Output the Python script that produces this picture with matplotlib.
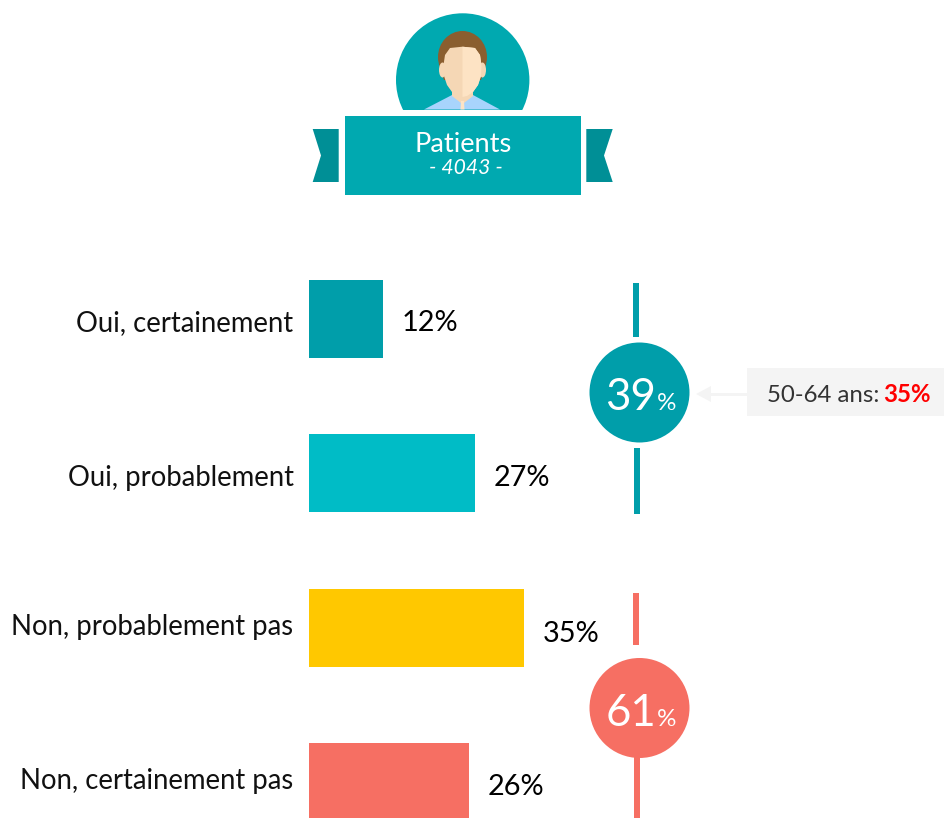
import matplotlib
matplotlib.use("Agg")
import matplotlib.pyplot as plt
import matplotlib.patches as mpatches

# ── Data ──────────────────────────────────────────────
categories = ["Oui, certainement", "Oui, probablement",
              "Non, probablement pas", "Non, certainement pas"]
values = [12, 27, 35, 26]
group_totals = [39, 61]
header_title = "Patients"
header_count = "- 4043 -"
note_label = "50-64 ans:"
note_value = "35%"

# ── Style ─────────────────────────────────────────────
plt.rcParams["font.family"] = ["Lato", "DejaVu Sans"]
BAR_COLORS = ["#009EAA", "#00BCC6", "#FFC800", "#F66F63"]
TEAL = "#00A9B0"
RIBBON = "#008F96"
SKIN_D = "#F5D7B5"
SKIN_L = "#FDE3C4"
HAIR = "#8A5E2F"
W, H = 944, 818

fig = plt.figure(figsize=(W / 100, H / 100), dpi=100)

# bars: 1% = 6.15 px, one category every 154.3 px, bar 78 px high
PX_PER_PCT = 6.15
STEP = 154.3
left = 309 / W
bottom = (H - 319 - 3.5 * STEP) / H
ax = fig.add_axes([left, bottom, 60 * PX_PER_PCT / W, 4 * STEP / H])
ax.set_xlim(0, 60)
ax.set_ylim(3.5, -0.5)
ax.axis("off")
ax.barh(range(4), values, height=78 / STEP, color=BAR_COLORS)

# labels in the original do not sit exactly on the bar centres
label_dy = [-4, -5, 1, 1]
value_dy = [-4, -5, -6, -5]
for i, (cat, val) in enumerate(zip(categories, values)):
    ax.annotate(cat, (0, i), xytext=(-15.5, label_dy[i]), textcoords="offset pixels",
                ha="right", va="center", fontsize=19.8, color="#111111",
                annotation_clip=False)
    ax.annotate(f"{val}%", (val, i), xytext=(19, value_dy[i]), textcoords="offset pixels",
                ha="left", va="center", fontsize=20.8, color="black",
                annotation_clip=False)

# overlay in pixel coordinates for the decoration
ov = fig.add_axes([0, 0, 1, 1], zorder=3)
ov.set_xlim(0, W)
ov.set_ylim(H, 0)
ov.axis("off")

# person badge
disc = ov.add_patch(mpatches.Circle((462.7, 80), 66.7, color=TEAL, lw=0))
disc.set_clip_path(mpatches.Rectangle((380, 0), 170, 109.5, transform=ov.transData))
ov.add_patch(mpatches.Ellipse((462.5, 57), 49, 52, color=HAIR, lw=0))
ov.add_patch(mpatches.Polygon([(438.5, 57), (486.5, 57), (485, 68), (481, 80), (444, 80),
                               (440, 68)], color=HAIR, lw=0))
ov.add_patch(mpatches.Polygon([(424, 109.5), (452, 95), (473, 95), (500, 109.5)],
                              color="#A8D4FC", lw=0))
ov.add_patch(mpatches.Polygon([(452, 86), (473, 86), (473, 96), (464, 103), (461, 103),
                               (452, 96)], color=SKIN_D, lw=0))
ov.add_patch(mpatches.Polygon([(460.5, 109.5), (461, 101), (464, 101), (464.5, 109.5)],
                              color=SKIN_L, lw=0))
ov.add_patch(mpatches.Ellipse((442.5, 70), 7, 15, color=SKIN_D, lw=0))
ov.add_patch(mpatches.Ellipse((482.5, 70), 7, 15, color=SKIN_D, lw=0))
half = [(0, 46.7), (12.5, 48), (17.5, 55), (19, 65), (18.5, 76), (15.5, 85), (10.5, 92),
        (4.5, 96), (0, 97)]
ov.add_patch(mpatches.Polygon([(462.5 - dx, y) for dx, y in half]
                              + [(462.5 + dx, y) for dx, y in half[::-1]],
                              color=SKIN_D, lw=0))
ov.add_patch(mpatches.Polygon([(462.5 + dx, y) for dx, y in half], color=SKIN_L, lw=0))

# banner
ov.add_patch(mpatches.Rectangle((344.5, 115.5), 236, 79.5, color=TEAL, lw=0))
ov.add_patch(mpatches.Polygon([(312.7, 129), (338.7, 129), (338.7, 182), (312.7, 182),
                               (321, 155.5)], color=RIBBON, lw=0))
ov.add_patch(mpatches.Polygon([(586.3, 129), (612.7, 129), (604, 155.5), (612.7, 182),
                               (586.3, 182)], color=RIBBON, lw=0))
ov.text(463, 144, header_title, ha="center", va="center", color="white", fontsize=19.6)
ov.text(466, 168, header_count, ha="center", va="center", color="white", fontsize=15.2,
        style="italic")

# group summary: stems and circles
for total, color, cy, stems in zip(
    group_totals, [BAR_COLORS[0], BAR_COLORS[3]], [392.5, 708],
    [[(283, 337), (448, 514)], [(593, 645), (757, 818)]],
):
    for (y0, y1), x0 in zip(stems, [633.3, 634]):
        ov.add_patch(mpatches.Rectangle((x0, y0), 6, y1 - y0, color=color, lw=0))
    ov.add_patch(mpatches.Circle((639.5, cy), 50, color=color, lw=0))
    ov.text(656, cy + 5, str(total), ha="right", va="center", color="white", fontsize=31.5)
    ov.text(657, cy + 11, "%", ha="left", va="center", color="white", fontsize=17.5)

# callout
ov.add_patch(mpatches.Rectangle((747, 368), 197, 48, color="#F4F4F4", lw=0))
ov.add_patch(mpatches.Rectangle((710, 392.5), 37, 3, color="#F4F4F4", lw=0))
ov.add_patch(mpatches.Polygon([(696, 394), (711, 386), (711, 402)], color="#F4F4F4", lw=0))
ov.text(879, 395, note_label, ha="right", va="center", color="#333333", fontsize=17.3)
ov.text(931, 395, note_value, ha="right", va="center", color="#FF0000", fontsize=17.3,
        fontweight="bold")

fig.savefig("out.png", dpi=100)
